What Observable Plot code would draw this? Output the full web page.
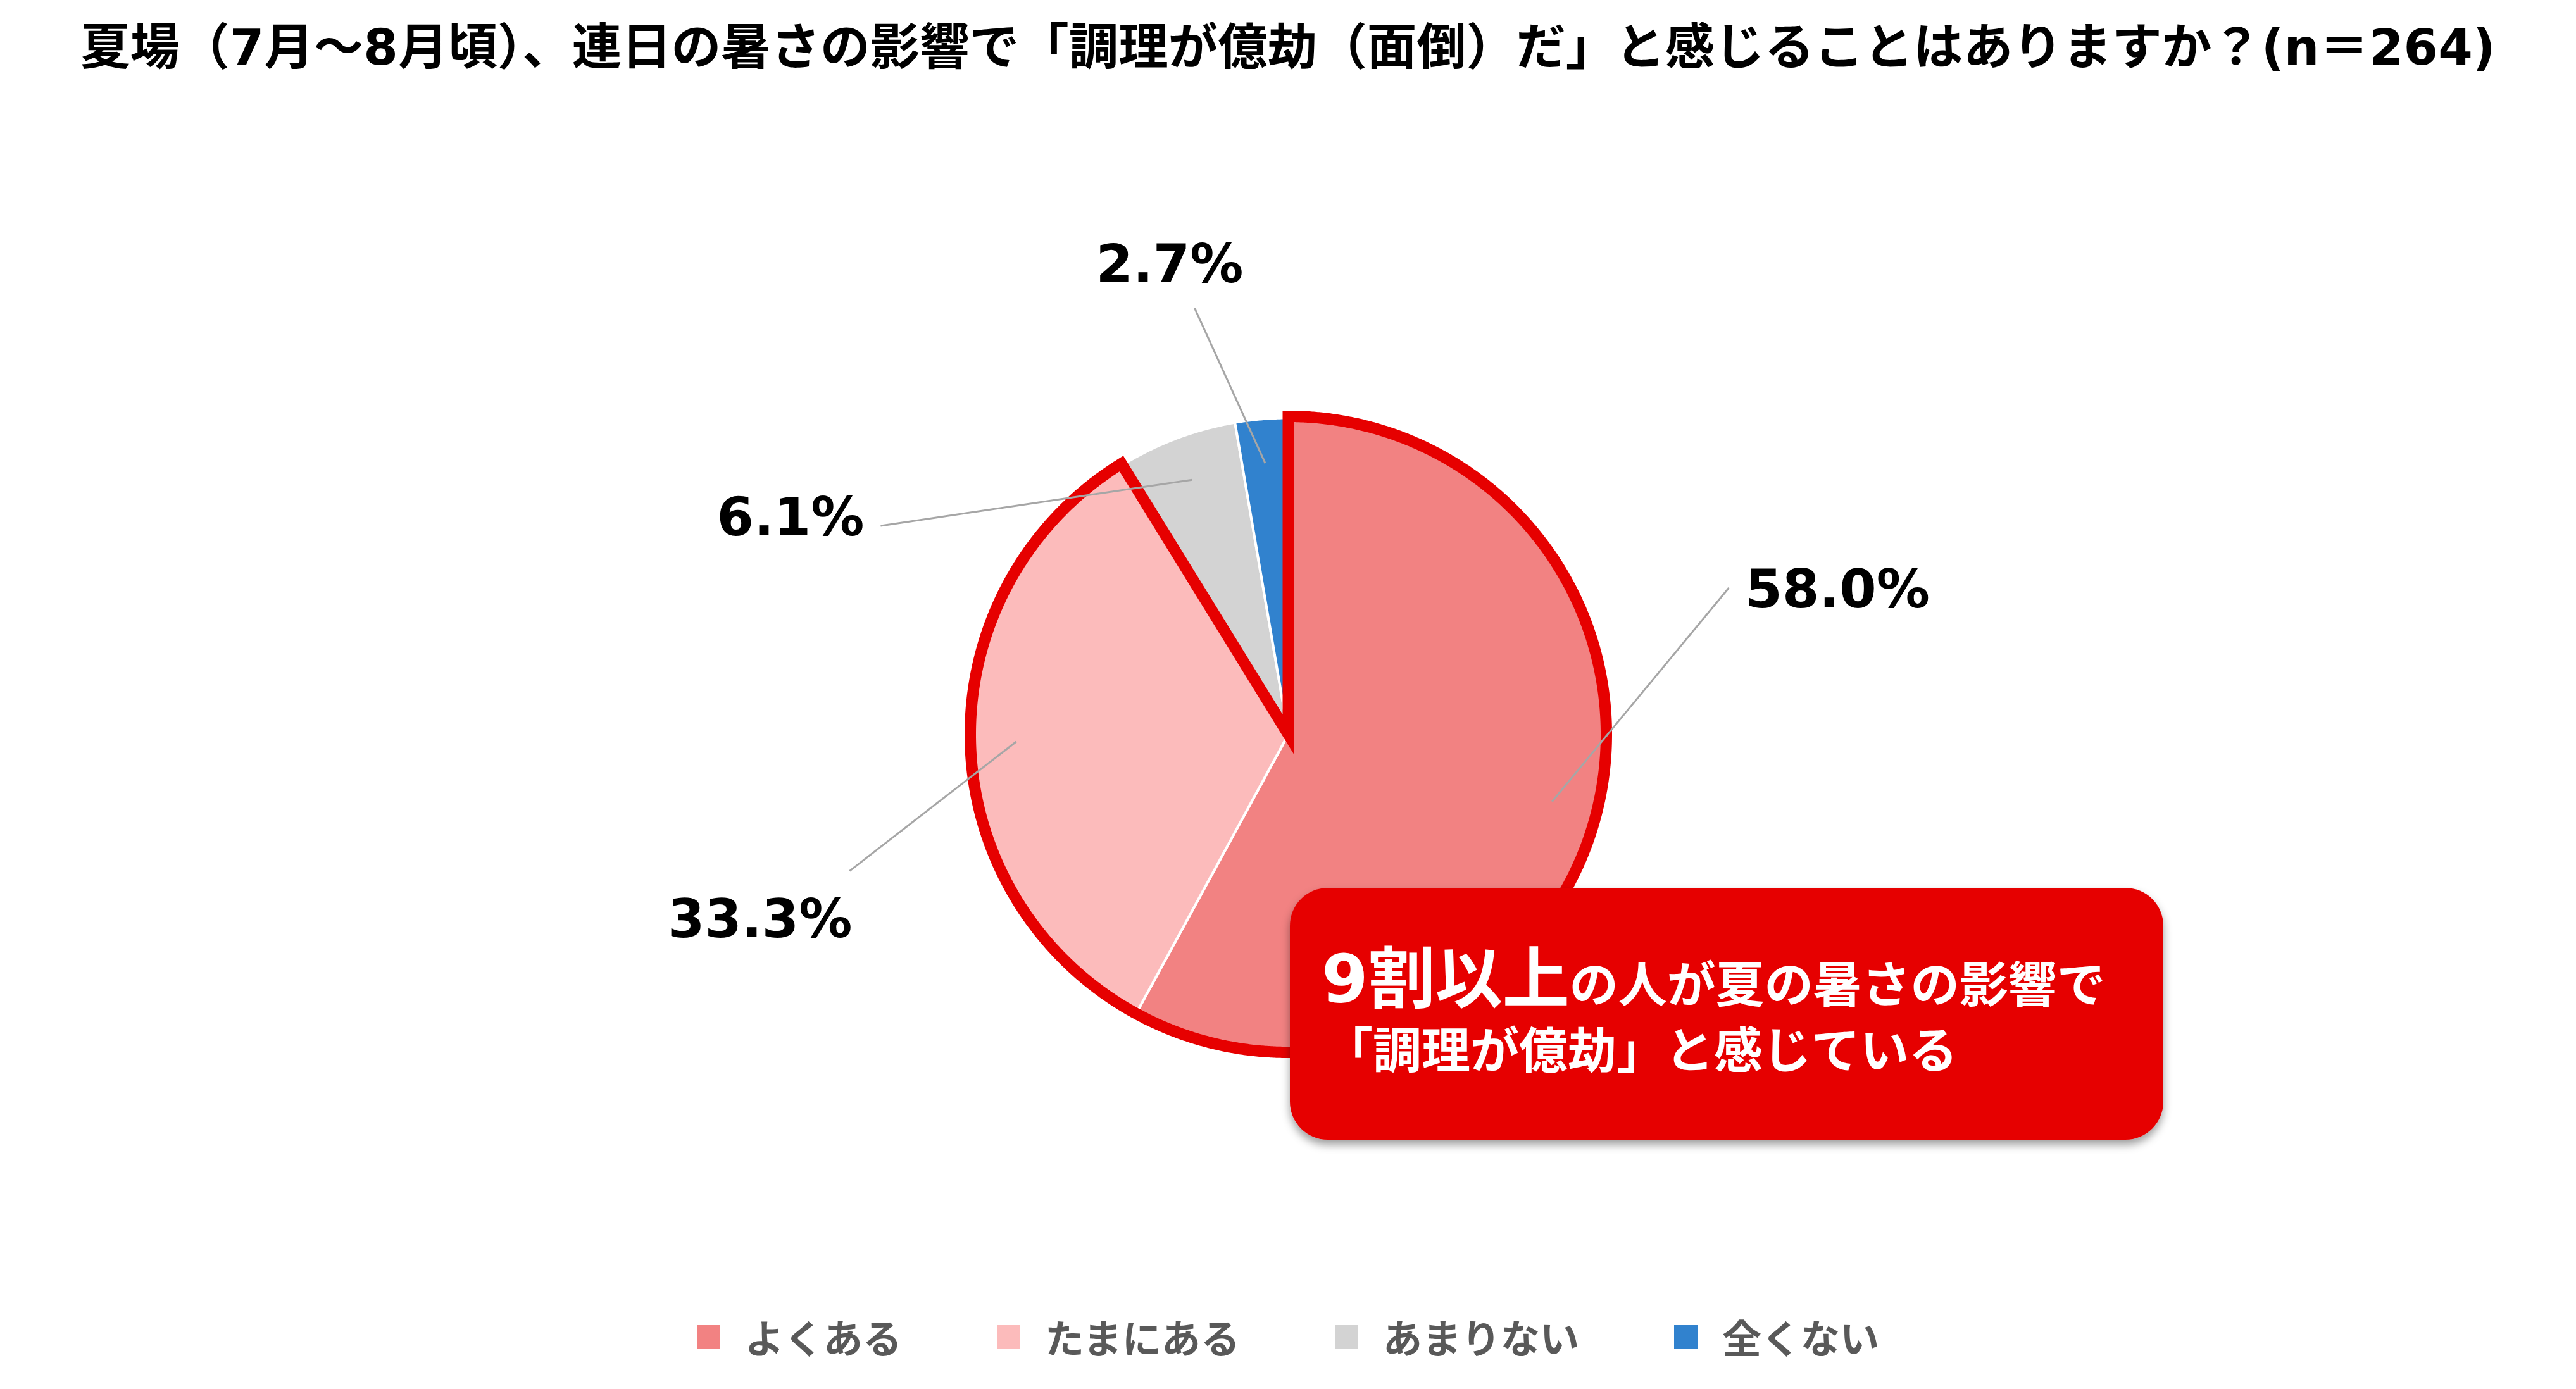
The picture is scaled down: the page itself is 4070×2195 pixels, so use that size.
<!DOCTYPE html>
<html>
<head>
<meta charset="utf-8">
<script src="https://cdn.jsdelivr.net/npm/d3@7"></script>
<script src="https://cdn.jsdelivr.net/npm/@observablehq/plot@0.6"></script>
<style>
  html, body { margin: 0; padding: 0; background: #ffffff; }
  body { width: 4070px; height: 2195px; position: relative; overflow: hidden; }
  #title {
    position: absolute; left: 0; top: 0; width: 4070px; height: 150px;
    line-height: 150px; text-align: center; white-space: nowrap;
    font-family: "DejaVu Sans", "Noto Sans CJK JP", sans-serif;
    font-weight: bold; font-size: 78.5px; color: #000;
  }
  #chart { position: absolute; left: 0; top: 150px; }
  #legend { position: absolute; left: 0; top: 2067px; width: 4070px; display: flex; justify-content: center; }
  #legend .lg-swatches {
    font-family: "Noto Sans CJK JP", sans-serif !important;
    font-size: 62px !important; font-weight: bold; color: #595959;
    margin: 0 !important; justify-content: center; flex-wrap: nowrap !important;
  }
  #legend .lg-swatch { margin-right: 150px !important; }
  #legend .lg-swatch:last-child { margin-right: 0 !important; }
  #legend .lg-swatch > svg { margin-right: 39px !important; }
</style>
</head>
<body>
<div id="title"></div>
<div id="chart"></div>
<div id="legend"></div>
<script>
// ---------- data ----------
const titleText = "夏場（7月～8月頃）、連日の暑さの影響で「調理が億劫（面倒）だ」と感じることはありますか？(n＝264)";
const categories = ["よくある", "たまにある", "あまりない", "全くない"];
const values = [58.0, 33.3, 6.1, 2.7];
const colors = ["#F28282", "#FCBBBB", "#D3D3D3", "#3182CE"];
const highlighted = ["よくある", "たまにある"];
const calloutBig = "9割以上";
const calloutSmall = "の人が夏の暑さの影響で";
const calloutLine2 = "「調理が億劫」と感じている";

// ---------- layout (polar, degrees clockwise from 12 o'clock, radius in pie radii) ----------
const labelLayout = [
  {angle: 72.5, r: 1.514, anchor: "start"},
  {angle: 250.6, r: 1.770, anchor: "middle"},
  {angle: 297.0, r: 1.504, anchor: "end"},
  {angle: 345.8, r: 1.529, anchor: "middle"}
];
const leaderOuter = [
  {angle: 71.6, r: 1.467},
  {angle: 252.7, r: 1.452},
  {angle: 297.1, r: 1.447},
  {angle: 347.6, r: 1.380}
];
const leaderInnerR = 0.86;

// ---------- build ----------
document.getElementById("title").textContent = titleText;

const W = 4070, H = 1890, PX = 500, CX = 2035, CY = 1010;
const rad = Math.PI / 180;
const polar = (a, r) => ({x: r * Math.sin(a), y: r * Math.cos(a)});

const data = categories.map((c, i) => ({cat: c, value: values[i]}));
const arcs = d3.pie().sort(null).value(d => d.value)(data);

function arcPoints(a0, a1, r, extra) {
  const pts = [{x: 0, y: 0, ...extra}];
  const n = Math.max(2, Math.ceil((a1 - a0) / (0.25 * rad)));
  for (let k = 0; k <= n; k++) {
    const a = a0 + (a1 - a0) * k / n;
    pts.push({...polar(a, r), ...extra});
  }
  return pts;
}

const slicePts = arcs.flatMap(a => arcPoints(a.startAngle, a.endAngle, 1, {cat: a.data.cat}));
const hi = arcs.filter(a => highlighted.includes(a.data.cat));
const outlinePts = arcPoints(hi[0].startAngle, hi[hi.length - 1].endAngle, 1.005, {});

const leaders = arcs.map((a, i) => {
  const mid = (a.startAngle + a.endAngle) / 2;
  const p1 = polar(mid, leaderInnerR);
  const p2 = polar(leaderOuter[i].angle * rad, leaderOuter[i].r);
  return {x1: p1.x, y1: p1.y, x2: p2.x, y2: p2.y};
});
const labels = arcs.map((a, i) => ({
  ...polar(labelLayout[i].angle * rad, labelLayout[i].r),
  anchor: labelLayout[i].anchor,
  text: a.data.value.toFixed(1) + "%"
}));

const labelStyle = {x: "x", y: "y", text: "text", fontSize: 84, fontWeight: "bold",
  fill: "#000", fontFamily: "DejaVu Sans, Noto Sans CJK JP, sans-serif"};

const chart = Plot.plot({
  width: W, height: H, margin: 0,
  style: {background: "transparent", overflow: "visible"},
  x: {domain: [-CX / PX, (W - CX) / PX], axis: null},
  y: {domain: [-(H - CY) / PX, CY / PX], axis: null},
  color: {domain: categories, range: colors},
  marks: [
    Plot.line(slicePts, {x: "x", y: "y", z: "cat", fill: "cat", stroke: "#ffffff",
      strokeWidth: 4, strokeLinejoin: "round", curve: "linear-closed"}),
    Plot.line(outlinePts, {x: "x", y: "y", stroke: "#E60000", strokeWidth: 18,
      strokeLinejoin: "miter", strokeMiterlimit: 10, curve: "linear-closed"}),
    Plot.link(leaders, {x1: "x1", y1: "y1", x2: "x2", y2: "y2", stroke: "#A6A6A6", strokeWidth: 3}),
    ...["start", "middle", "end"].map(anc =>
      Plot.text(labels.filter(d => d.anchor === anc), {...labelStyle, textAnchor: anc}))
  ]
});
document.getElementById("chart").appendChild(chart);

// callout annotation
const svg = d3.select(chart);
const defs = svg.append("defs");
defs.append("filter").attr("id", "shadow").attr("x", "-10%").attr("y", "-10%").attr("width", "120%").attr("height", "130%")
  .append("feDropShadow").attr("dx", 0).attr("dy", 8).attr("stdDeviation", 7)
  .attr("flood-color", "#000").attr("flood-opacity", 0.38);
const g = svg.append("g").attr("text-anchor", "start");
g.append("rect").attr("x", 2038).attr("y", 1253).attr("width", 1380).attr("height", 398)
  .attr("rx", 60).attr("ry", 60).attr("fill", "#E60000").attr("filter", "url(#shadow)");
const t1 = g.append("text").attr("x", 2088).attr("y", 1434).attr("fill", "#fff").attr("text-anchor", "start")
  .attr("font-weight", "bold").attr("font-family", "DejaVu Sans, Noto Sans CJK JP, sans-serif");
t1.append("tspan").attr("font-size", 106).text(calloutBig);
t1.append("tspan").attr("font-size", 77).text(calloutSmall);
g.append("text").attr("x", 2092).attr("y", 1538).attr("fill", "#fff").attr("text-anchor", "start")
  .attr("font-weight", "bold").attr("font-size", 77)
  .attr("font-family", "Noto Sans CJK JP, sans-serif").text(calloutLine2);

// legend
const legend = Plot.legend({
  color: {domain: categories, range: colors},
  legend: "swatches", swatchSize: 37, className: "lg"
});
document.getElementById("legend").appendChild(legend);
</script>
</body>
</html>
